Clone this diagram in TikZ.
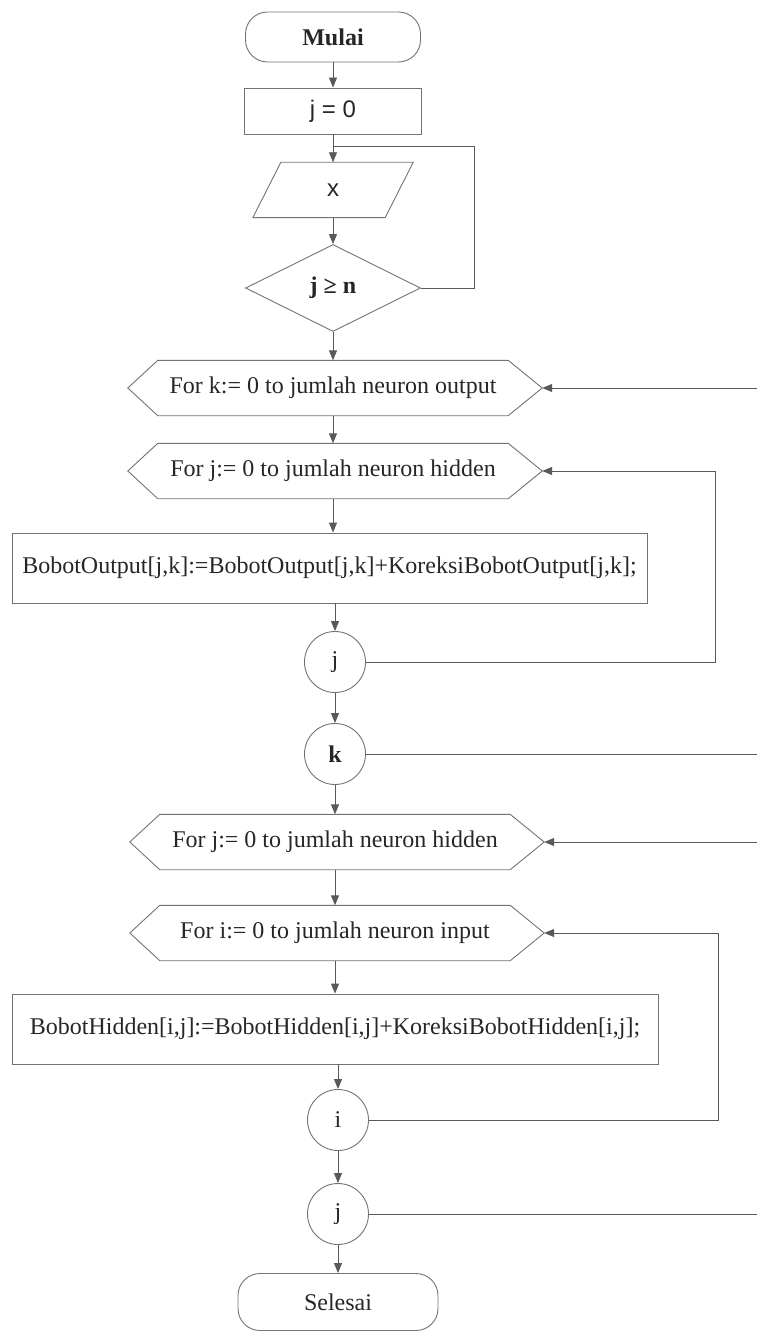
\documentclass[tikz,border=0pt]{standalone}
\usepackage{fontspec}
\setmainfont{Liberation Serif}
\newfontfamily\arialf{Liberation Sans}
\usetikzlibrary{shapes.geometric,arrows.meta,calc}
\begin{document}
\begin{tikzpicture}[x=1pt,y=-1pt,
  line/.style={draw=black!65, line width=0.9pt},
  arr/.style={line, -{Triangle[length=10pt,width=8pt]}},
  shp/.style={draw=black!55, line width=0.9pt},
  txt/.style={font=\fontsize{24}{28}\selectfont, text=black!85},
  term/.style={shp, txt, rounded corners=22pt, minimum width=175pt, minimum height=50pt, inner sep=0pt},
  proc/.style={shp, txt, rectangle, inner sep=0pt},
  hexbox/.style={txt, minimum width=350pt, minimum height=55pt, inner sep=0pt},
  circ/.style={shp, txt, circle, minimum size=61pt, inner sep=0pt}]
\useasboundingbox (0,0) rectangle (757,1332);
\coordinate (edge) at (757,0);
\coordinate (r2) at (715,0);
\coordinate (r4) at (718,0);

% nodes
\node[term] (mulai) at (333,37) {\textbf{Mulai}};
\node[proc, minimum width=177pt, minimum height=46pt] (j0) at (333,111) {\arialf j = 0};
\node[txt, minimum width=132pt, minimum height=55pt, inner sep=0pt] (xin) at (333,190) {\arialf x};
\draw[shp] ($(xin.north west)+(14,0)$) -- ($(xin.north east)+(14,0)$) -- ($(xin.south east)+(-14,0)$) -- ($(xin.south west)+(-14,0)$) -- cycle;
\node[shp, txt, diamond, aspect=2, minimum width=175pt, minimum height=87pt, inner sep=0pt] (dec) at (333,288) {\textbf{j ≥ n}};

\node[hexbox] (h1) at (333,388) {For k:= 0 to jumlah neuron output};
\draw[shp] (h1.north west) -- (h1.north east) -- ($(h1.east)+(34,0)$) coordinate (h1t) -- (h1.south east) -- (h1.south west) -- ($(h1.west)+(-30,0)$) -- cycle;
\node[hexbox] (h2) at (333,471) {For j:= 0 to jumlah neuron hidden};
\draw[shp] (h2.north west) -- (h2.north east) -- ($(h2.east)+(34,0)$) coordinate (h2t) -- (h2.south east) -- (h2.south west) -- ($(h2.west)+(-30,0)$) -- cycle;

\node[proc, minimum width=635pt, minimum height=70pt] (b1) at (329.5,568) {BobotOutput[j,k]:=BobotOutput[j,k]+KoreksiBobotOutput[j,k];};

\node[circ] (jc) at (335,662) {j};
\node[circ] (kc) at (335,754) {\textbf{k}};

\node[hexbox] (h3) at (335,842) {For j:= 0 to jumlah neuron hidden};
\draw[shp] (h3.north west) -- (h3.north east) -- ($(h3.east)+(34,0)$) coordinate (h3t) -- (h3.south east) -- (h3.south west) -- ($(h3.west)+(-30,0)$) -- cycle;
\node[hexbox] (h4) at (335,933) {For i:= 0 to jumlah neuron input};
\draw[shp] (h4.north west) -- (h4.north east) -- ($(h4.east)+(34,0)$) coordinate (h4t) -- (h4.south east) -- (h4.south west) -- ($(h4.west)+(-30,0)$) -- cycle;

\node[proc, minimum width=646pt, minimum height=70pt] (b2) at (335,1029) {BobotHidden[i,j]:=BobotHidden[i,j]+KoreksiBobotHidden[i,j];};

\node[circ] (ic) at (338,1120) {i};
\node[circ] (jc2) at (338,1214) {j};
\node[term, minimum width=200pt, minimum height=57pt] (sel) at (338,1302) {Selesai};

% main flow
\coordinate (jn) at (333,146);
\coordinate (lp) at (474,146);
\draw[arr] (mulai.south) -- (j0.north);
\draw[arr] (j0.south) -- (xin.north);
\draw[line] (dec.east) -| (lp) -- (jn);
\draw[arr] (xin.south) -- (dec.north);
\draw[arr] (dec.south) -- (h1.north);
\draw[arr] (h1.south) -- (h2.north);
\draw[arr] (h2.south) -- (h2.south |- b1.north);
\draw[arr] (jc.north |- b1.south) -- (jc.north);
\draw[arr] (jc.south) -- (kc.north);
\draw[arr] (kc.south) -- (h3.north);
\draw[arr] (h3.south) -- (h4.north);
\draw[arr] (h4.south) -- (h4.south |- b2.north);
\draw[arr] (ic.north |- b2.south) -- (ic.north);
\draw[arr] (ic.south) -- (jc2.north);
\draw[arr] (jc2.south) -- (sel.north);

% loops
\draw[arr] (jc.east) -- (jc.east -| r2) -- (h2t -| r2) -- (h2t);
\draw[line] (kc.east) -- (kc.east -| edge);
\draw[arr] (h1t -| edge) -- (h1t);
\draw[arr] (ic.east) -- (ic.east -| r4) -- (h4t -| r4) -- (h4t);
\draw[line] (jc2.east) -- (jc2.east -| edge);
\draw[arr] (h3t -| edge) -- (h3t);
\end{tikzpicture}
\end{document}
